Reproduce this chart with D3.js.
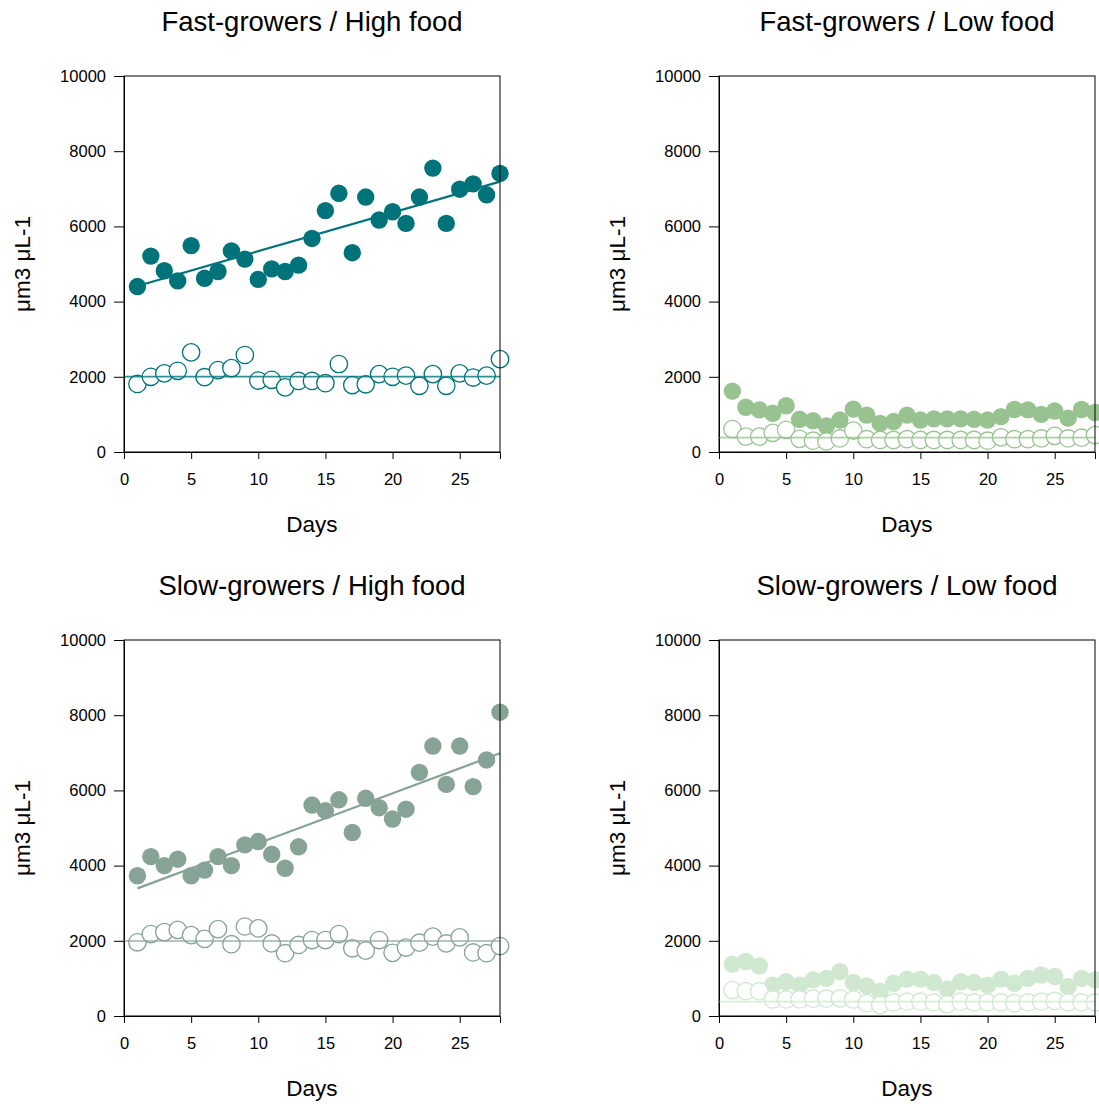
<!DOCTYPE html>
<html>
<head>
<meta charset="utf-8">
<script src="https://cdn.jsdelivr.net/npm/d3@7"></script>
<style>
  html, body { margin: 0; padding: 0; background: #fff; }
  text { font-family: "Liberation Sans", Arial, sans-serif; fill: #000; }
</style>
</head>
<body>
<svg id="chart" width="1099" height="1104"></svg>
<script>
// ---------- data ----------
const days = [1,2,3,4,5,6,7,8,9,10,11,12,13,14,15,16,17,18,19,20,21,22,23,24,25,26,27,28];
const xTicks = [0, 5, 10, 15, 20, 25];
const yTicks = [0, 2000, 4000, 6000, 8000, 10000];
const panelTitles = ["Fast-growers / High food", "Fast-growers / Low food",
                     "Slow-growers / High food", "Slow-growers / Low food"];
const panelColors = ["#00737a", "#98c390", "#86a396", "#d0e8cf"];

// filled circles (one series per panel)
const fastHighFilled = [4400,5210,4820,4550,5490,4620,4800,5350,5130,4590,4870,4800,4970,5680,
                        6420,6880,5300,6780,6170,6390,6080,6780,7550,6080,6990,7130,6840,7410];
const fastLowFilled  = [1620,1190,1120,1030,1230,870,830,690,850,1140,980,760,810,980,
                        850,880,880,880,870,850,940,1130,1120,1000,1090,900,1130,1050];
const slowHighFilled = [3730,4240,4000,4170,3730,3880,4240,4000,4550,4640,4300,3930,4500,5610,
                        5460,5750,4880,5790,5540,5240,5500,6480,7180,6160,7180,6100,6810,8080];
const slowLowFilled  = [1380,1450,1330,820,910,820,960,1000,1180,890,800,650,870,980,
                        980,890,720,910,890,820,980,870,1000,1090,1050,780,1000,960];

// open circles (one series per panel)
const fastHighOpen = [1810,2000,2090,2160,2650,1990,2180,2230,2580,1900,1920,1720,1890,1890,
                      1830,2340,1780,1800,2070,2000,2030,1760,2070,1760,2090,1980,2030,2470];
const fastLowOpen  = [610,410,410,510,590,350,300,280,360,570,340,320,320,340,
                      320,320,320,320,320,300,390,340,340,360,430,360,380,450];
const slowHighOpen = [1960,2180,2230,2290,2150,2050,2310,1910,2380,2330,1930,1670,1890,2020,
                      2020,2180,1800,1740,2020,1680,1820,1950,2110,1930,2090,1690,1670,1860];
const slowLowOpen  = [690,660,660,440,440,440,460,460,470,440,340,290,360,380,
                      380,360,310,380,360,360,360,340,360,380,400,360,360,360];

// fitted trend lines (endpoints), null = none drawn
const trendX = [1, 28];
const fastHighTrend = [4415, 7190];
const slowHighTrend = [3395, 6986];
// horizontal reference levels for open-circle series
const openLevels = [2004, 381, 1995, 381];

const filledSeries = [fastHighFilled, fastLowFilled, slowHighFilled, slowLowFilled];
const openSeries = [fastHighOpen, fastLowOpen, slowHighOpen, slowLowOpen];
const trends = [fastHighTrend, null, slowHighTrend, null];

// ---------- layout ----------
const svg = d3.select("#chart");
const size = 376;
const lefts = [124, 719];
const tops = [76, 640];
const r = 8.7;

const x = d3.scaleLinear().domain([0, 28]).range([0, size]);
const y = d3.scaleLinear().domain([0, 10000]).range([size, 0]);

panelTitles.forEach((title, i) => {
  const col = i % 2, row = Math.floor(i / 2);
  const color = panelColors[i];
  const g = svg.append("g").attr("transform", `translate(${lefts[col]},${tops[row]})`);

  // title
  g.append("text").attr("x", size / 2).attr("y", -45)
    .attr("text-anchor", "middle").style("font-size", "27.5px").text(title);

  // y axis
  const ya = g.append("g").call(d3.axisLeft(y).tickValues(yTicks).tickSize(10).tickPadding(8)
      .tickFormat(d3.format("d")));
  ya.select(".domain").attr("stroke", "#000");
  ya.selectAll("line").attr("stroke", "#000");
  ya.selectAll("text").style("font-size", "16.5px").style("font-family", "Liberation Sans, Arial, sans-serif");

  // x axis
  const xa = g.append("g").attr("transform", `translate(0,${size})`)
    .call(d3.axisBottom(x).tickValues(xTicks).tickSize(7).tickPadding(14));
  xa.select(".domain").attr("stroke", "#000");
  xa.selectAll("line").attr("stroke", "#000");
  xa.selectAll("text").style("font-size", "16.5px").style("font-family", "Liberation Sans, Arial, sans-serif");

  // axis labels
  g.append("text").attr("x", size / 2).attr("y", size + 80)
    .attr("text-anchor", "middle").style("font-size", "22.5px").text("Days");
  g.append("text").attr("transform", `translate(${-94},${size / 2}) rotate(-90)`)
    .attr("text-anchor", "middle").style("font-size", "22.5px").text("μm3 μL-1");

  // trend line
  const tr = trends[i];
  if (tr) {
    g.append("line")
      .attr("x1", x(trendX[0])).attr("y1", y(tr[0]))
      .attr("x2", x(trendX[1])).attr("y2", y(tr[1]))
      .attr("stroke", color).attr("stroke-width", 2.2);
  }

  // filled points
  g.append("g").selectAll("circle").data(filledSeries[i]).join("circle")
    .attr("cx", (d, k) => x(days[k])).attr("cy", d => y(d)).attr("r", r)
    .attr("fill", color);

  // open points
  g.append("g").selectAll("circle").data(openSeries[i]).join("circle")
    .attr("cx", (d, k) => x(days[k])).attr("cy", d => y(d)).attr("r", r)
    .attr("fill", "#fff").attr("stroke", color).attr("stroke-width", 1.3);

  // horizontal reference line
  g.append("line")
    .attr("x1", 0).attr("x2", size)
    .attr("y1", y(openLevels[i])).attr("y2", y(openLevels[i]))
    .attr("stroke", color).attr("stroke-width", 1.6).attr("stroke-opacity", 0.8);

  // frame
  g.append("rect").attr("x", 0).attr("y", 0).attr("width", size).attr("height", size)
    .attr("fill", "none").attr("stroke", "#000").attr("stroke-width", 1);
});
</script>
</body>
</html>
